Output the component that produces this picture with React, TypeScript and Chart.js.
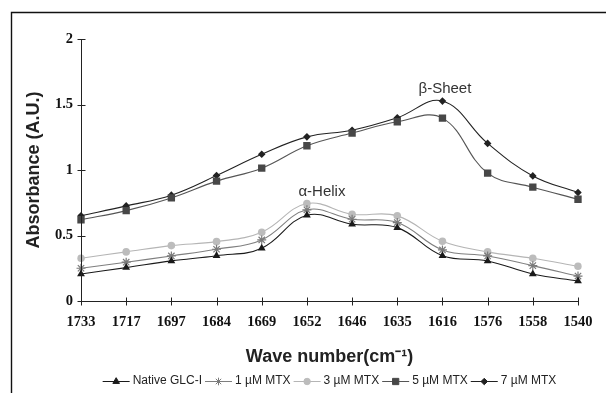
import React, { useEffect, useRef } from "react";
import { Chart, registerables } from "chart.js";
import { drawPoint } from "chart.js/helpers";

Chart.register(...registerables);

const CATEGORIES = ["1733", "1717", "1697", "1684", "1669", "1652", "1646", "1635", "1616", "1576", "1558", "1540"];
const NATIVE = [0.206, 0.255, 0.306, 0.346, 0.403, 0.655, 0.586, 0.56, 0.346, 0.306, 0.206, 0.153];
const MTX_1 = [0.25, 0.296, 0.344, 0.395, 0.466, 0.696, 0.624, 0.599, 0.39, 0.344, 0.27, 0.19];
const MTX_3 = [0.326, 0.375, 0.423, 0.453, 0.525, 0.744, 0.662, 0.65, 0.456, 0.375, 0.326, 0.265];
const MTX_5 = [0.62, 0.69, 0.787, 0.915, 1.014, 1.185, 1.282, 1.368, 1.396, 0.976, 0.869, 0.777];
const MTX_7 = [0.65, 0.726, 0.808, 0.958, 1.12, 1.253, 1.304, 1.399, 1.526, 1.203, 0.955, 0.828];
const SERIES_LABELS = ["Native GLC-I", "1 \u00B5M MTX", "3 \u00B5M MTX", "5 \u00B5M MTX", "7 \u00B5M MTX"];
const Y_TICKS = [0, 0.5, 1, 1.5, 2];
const Y_TICK_LABELS = ["0", "0.5", "1", "1.5", "2"];
const ANNOTATIONS = [
  { text: "\u03B2-Sheet", index: 8, value: 1.62, dx: 2.5 },
  { text: "\u03B1-Helix", index: 5, value: 0.83, dx: 15 },
];

const frameAxesPlugin = {
  id: "frameAxes",
  afterDatasetsDraw(chart: any) {
    const { ctx } = chart;
    const xs = chart.scales.x;
    const ys = chart.scales.y;
    const area = chart.chartArea;
    ctx.save();
    // outer frame (left and top)
    ctx.strokeStyle = "#111";
    ctx.lineWidth = 1.4;
    ctx.beginPath();
    ctx.moveTo(11.5, 393);
    ctx.lineTo(11.5, 12.5);
    ctx.lineTo(606, 12.5);
    ctx.stroke();
    // axes
    ctx.strokeStyle = "#222";
    ctx.lineWidth = 1;
    const x0 = Math.round(area.left) + 0.5;
    const y0 = Math.round(ys.getPixelForValue(0)) + 0.5;
    ctx.beginPath();
    ctx.moveTo(x0, ys.getPixelForValue(2));
    ctx.lineTo(x0, y0);
    ctx.lineTo(area.right, y0);
    Y_TICKS.forEach((v) => {
      const y = Math.round(ys.getPixelForValue(v)) + 0.5;
      ctx.moveTo(x0 - 4, y);
      ctx.lineTo(x0 + 4, y);
    });
    CATEGORIES.forEach((_, i) => {
      const x = Math.round(xs.getPixelForValue(i)) + 0.5;
      ctx.moveTo(x, y0 - 4);
      ctx.lineTo(x, y0 + 4);
    });
    ctx.stroke();
    // annotations
    ctx.fillStyle = "#333";
    ctx.font = "15px 'Liberation Sans', Arial, sans-serif";
    ctx.textAlign = "center";
    ctx.textBaseline = "middle";
    ANNOTATIONS.forEach((a) => {
      ctx.fillText(a.text, xs.getPixelForValue(a.index) + a.dx, ys.getPixelForValue(a.value));
    });
    ctx.restore();
  },
  afterDraw(chart: any) {
    // legend: line + marker + text, centred on the plot area
    const { ctx } = chart;
    const area = chart.chartArea;
    const lineLen = 27;
    const gap = 3;
    const after = 3;
    ctx.save();
    ctx.font = "12px 'Liberation Sans', Arial, sans-serif";
    const items = chart.data.datasets.map((ds: any) => ({ ds, w: ctx.measureText(ds.label).width }));
    const total = items.reduce((s: number, it: any) => s + lineLen + gap + it.w + after, 0) - after;
    let x = (area.left + area.right) / 2 - total / 2;
    const y = 381;
    items.forEach((it: any) => {
      const ds = it.ds;
      ctx.strokeStyle = ds.borderColor;
      ctx.lineWidth = 1;
      ctx.beginPath();
      ctx.moveTo(x, y + 0.5);
      ctx.lineTo(x + lineLen, y + 0.5);
      ctx.stroke();
      ctx.fillStyle = ds.pointBackgroundColor;
      ctx.strokeStyle = ds.pointBorderColor;
      ctx.lineWidth = 1;
      drawPoint(ctx, { pointStyle: ds.pointStyle, radius: ds.pointRadius * 0.85, rotation: 0, borderWidth: 1 }, x + lineLen / 2, y + 0.5);
      ctx.fillStyle = "#222";
      ctx.textAlign = "left";
      ctx.textBaseline = "middle";
      ctx.fillText(ds.label, x + lineLen + gap, y);
      x += lineLen + gap + it.w + after;
    });
    ctx.restore();
  },
};

function makeSeries(label: string, data: number[], color: string, pointColor: string, style: string, radius: number, stroke?: boolean) {
  return {
    label,
    data,
    borderColor: color,
    borderWidth: 1.1,
    pointStyle: style,
    pointRadius: radius,
    pointHoverRadius: radius,
    pointBackgroundColor: stroke ? "rgba(0,0,0,0)" : pointColor,
    pointBorderColor: pointColor,
    pointBorderWidth: stroke ? 1.2 : 0,
    tension: 0.4,
    fill: false,
  };
}

export default function App() {
  const canvasRef = useRef<HTMLCanvasElement | null>(null);
  useEffect(() => {
    document.body.style.margin = "0";
    const canvas = canvasRef.current;
    if (!canvas) return;
    const chart = new Chart(canvas, {
      type: "line",
      data: {
        labels: CATEGORIES,
        datasets: [
          makeSeries(SERIES_LABELS[0], NATIVE, "#1a1a1a", "#1a1a1a", "triangle", 4.5),
          makeSeries(SERIES_LABELS[1], MTX_1, "#7f7f7f", "#7a7a7a", "star", 4.5, true),
          makeSeries(SERIES_LABELS[2], MTX_3, "#b5b5b5", "#bcbcbc", "circle", 3.8),
          makeSeries(SERIES_LABELS[3], MTX_5, "#555555", "#474747", "rect", 5.2),
          makeSeries(SERIES_LABELS[4], MTX_7, "#222222", "#222222", "rectRot", 3.8),
        ] as any,
      },
      options: {
        animation: false,
        responsive: false,
        events: [],
        layout: { padding: { left: 0, right: 28, top: 39, bottom: 22 } },
        plugins: {
          legend: { display: false },
          tooltip: { enabled: false },
        },
        scales: {
          x: {
            type: "category",
            offset: false,
            grid: { display: false, drawTicks: false },
            border: { display: false },
            ticks: {
              color: "#111",
              font: { family: "'Liberation Serif', 'Times New Roman', serif", size: 14.5, weight: "bold" },
              padding: 13,
              maxRotation: 0,
              autoSkip: false,
            },
            title: {
              display: true,
              text: "Wave number(cm\u207B\u00B9)",
              color: "#222",
              font: { family: "'Liberation Sans', Arial, sans-serif", size: 18, weight: "bold" },
              padding: { top: 0, bottom: 3 },
            },
            afterFit: (scale: any) => {
              scale.height = 70;
            },
          },
          y: {
            min: 0,
            max: 2,
            grid: { display: false, drawTicks: false },
            border: { display: false },
            afterBuildTicks: (scale: any) => {
              scale.ticks = Y_TICKS.map((v) => ({ value: v }));
            },
            ticks: {
              color: "#111",
              font: { family: "'Liberation Serif', 'Times New Roman', serif", size: 14.5, weight: "bold" },
              padding: 8,
              callback: (value: any) => {
                const i = Y_TICKS.indexOf(Number(value));
                return i >= 0 ? Y_TICK_LABELS[i] : "";
              },
            },
            title: {
              display: true,
              text: "Absorbance (A.U.)",
              color: "#222",
              font: { family: "'Liberation Sans', Arial, sans-serif", size: 18, weight: "bold" },
              padding: { top: 23, bottom: 0 },
            },
            afterFit: (scale: any) => {
              scale.width = 81;
            },
          },
        },
      } as any,
      plugins: [frameAxesPlugin],
    });
    return () => chart.destroy();
  }, []);
  return <canvas ref={canvasRef} width={606} height={393} style={{ display: "block", width: 606, height: 393 }} />;
}
